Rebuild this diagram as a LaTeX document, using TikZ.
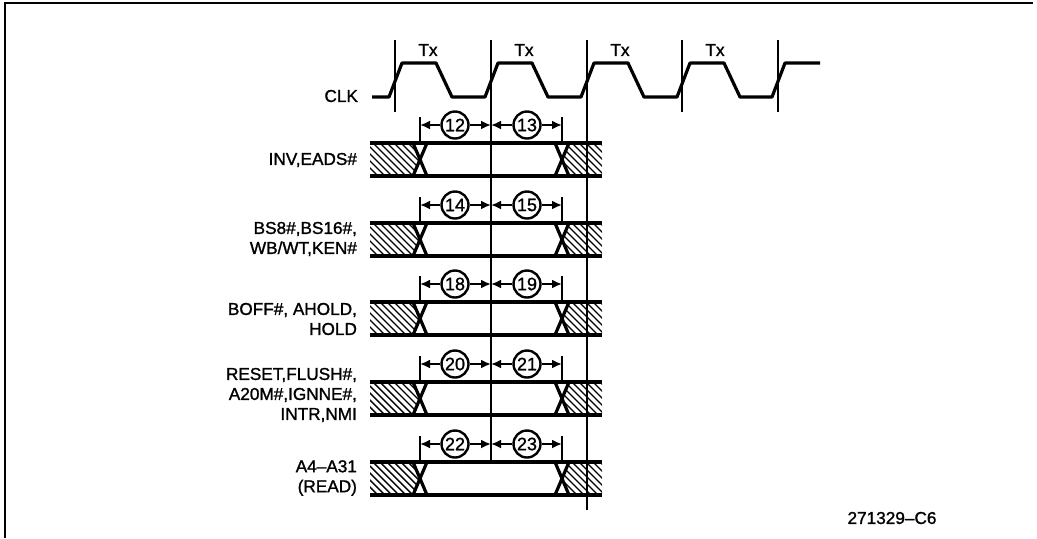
\documentclass[tikz,border=0pt]{standalone}
\usepackage{fontspec}
\setmainfont{Liberation Sans}[BoldFont={Liberation Sans},BoldFeatures={FakeBold=1.3}]
\usetikzlibrary{arrows.meta}

\begin{document}
\begin{tikzpicture}[x=0.5pt,y=-0.5pt,
    frame/.style={line width=1pt},
    wave/.style={line width=1.6pt,line join=round},
    clkline/.style={line width=1pt},
    busline/.style={line width=1.6pt},
    hatch/.style={line width=0.7pt},
    dim/.style={line width=1pt,-{Latex[length=5pt,width=4.5pt]}},
    num/.style={circle,draw,line width=1.2pt,minimum size=13.5pt,inner sep=0pt,font=\fontsize{9}{9}\selectfont\bfseries},
    sig/.style={anchor=east,align=right,font=\fontsize{8.6}{10}\selectfont\bfseries},
    tx/.style={font=\fontsize{8.6}{10}\selectfont\bfseries}]
    \useasboundingbox (0,0) rectangle (1037,538);
    \draw[frame] (5,538) -- (5,3) -- (1033,3);
    \node[sig] (clk) at (365,96) {CLK};
    \draw[wave] (372,97)
        \foreach \k in {0,...,3}{ -- (395+96*\k-6,97) -- (395+96*\k+7,63) -- (395+96*\k+41,63) -- (395+96*\k+57,97) }
        -- (772,97) -- (785,63) -- (820,63);
    \foreach \x in {395,491,587,682} \node[tx] (tx\x) at (\x+33,50) {Tx};
    \foreach \r/\t/\a/\b in {1/143/12/13,2/223/14/15,3/302/18/19,4/382/20/21,5/462/22/23}{
        \pgfmathsetmacro\bt{\t+33}
        \pgfmathsetmacro\mt{\t+16.5}
        \pgfmathsetmacro\dy{\t-18}
        \begin{scope}
            \clip (370,\t) -- (413,\t) -- (420,\mt) -- (413,\bt) -- (370,\bt) -- cycle;
            \foreach \h in {331,338,...,420} \draw[hatch] (\h,\t) -- ++(33,33);
        \end{scope}
        \begin{scope}
            \clip (602,\t) -- (569,\t) -- (562,\mt) -- (569,\bt) -- (602,\bt) -- cycle;
            \foreach \h in {530,537,...,602} \draw[hatch] (\h,\t) -- ++(33,33);
        \end{scope}
        \draw[busline] (370,\t) -- (602,\t) (370,\bt) -- (602,\bt);
        \draw[busline] (413,\t) -- (427,\bt) (427,\t) -- (413,\bt);
        \draw[busline] (555,\t) -- (569,\bt) (569,\t) -- (555,\bt);
        \draw[clkline] (420,\t-26) -- (420,\t) (562,\t-26) -- (562,\t);
        \coordinate (L\r) at (420,\dy);
        \coordinate (M\r) at (491,\dy);
        \coordinate (R\r) at (562,\dy);
        \node[num] (n\a) at (455,\dy) {\a};
        \node[num] (n\b) at (527,\dy) {\b};
        \draw[dim] (n\a) -- (L\r);
        \draw[dim] (n\a) -- (M\r);
        \draw[dim] (n\b) -- (M\r);
        \draw[dim] (n\b) -- (R\r);
    }
    \foreach \x/\e in {395/112,491/462,587/510,682/112,778/112} \draw[clkline] (\x,40) -- (\x,\e);
    \node[sig] (inv) at (364,160) {INV,EADS\#};
    \node[sig] (bs) at (364,239) {BS8\#,BS16\#,\\WB/WT,KEN\#};
    \node[sig] (boff) at (364,319) {BOFF\#, AHOLD,\\HOLD};
    \node[sig] (reset) at (364,395) {RESET,FLUSH\#,\\A20M\#,IGNNE\#,\\INTR,NMI};
    \node[sig] (addr) at (364,478) {A4--A31\\(READ)};
    \node[tx] (fig) at (892,518) {271329--C6};
\end{tikzpicture}
\end{document}
